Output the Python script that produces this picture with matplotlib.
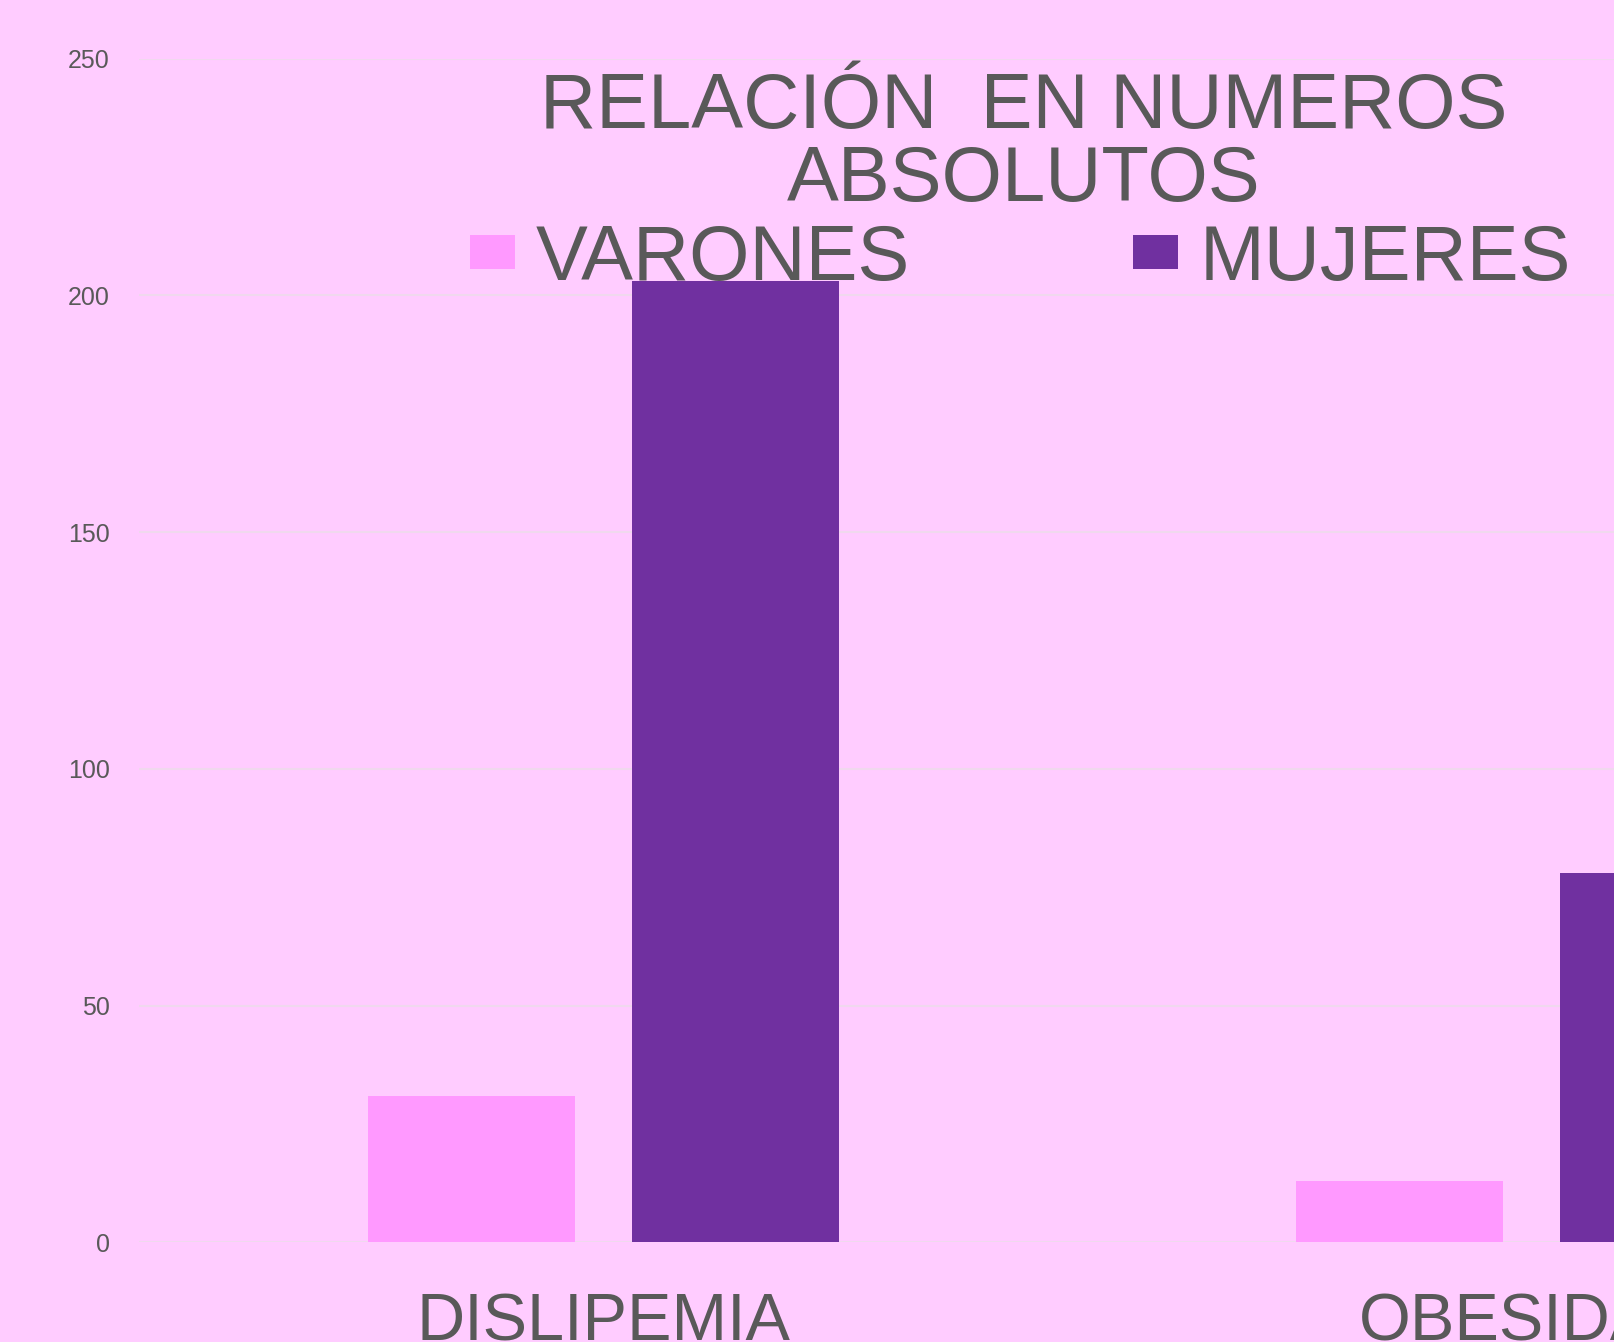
import matplotlib.pyplot as plt
import numpy as np

plt.rcParams['font.family'] = ['Liberation Sans', 'DejaVu Sans']

categorias = ['DISLIPEMIA', 'OBESIDAD']
varones = [31, 13]
mujeres = [203, 78]

bg = '#FFCCFF'
gris = '#595959'

fig = plt.figure(figsize=(16.14, 13.42), dpi=100, facecolor=bg)
# the axes runs past the right edge, the original picture is cropped there
ax = fig.add_axes([0.0861, 0.0742, 1.1505, 0.8821], facecolor=bg)

x = np.arange(len(categorias))
w = 0.223
b1 = ax.bar(x - 0.142, varones, w, color='#FF99FF', label='VARONES', zorder=3)
b2 = ax.bar(x + 0.142, mujeres, w, color='#7030A0', label='MUJERES', zorder=3)

ax.set_xlim(-0.5, 1.5)
ax.set_ylim(0, 250)
ax.set_yticks([0, 50, 100, 150, 200, 250])
ax.set_xticks(x)
ax.set_xticklabels(categorias, fontsize=48, color=gris)
ax.tick_params(axis='x', length=0, pad=36)
ax.tick_params(axis='y', length=0, pad=21, labelsize=18, labelcolor=gris)
ax.grid(axis='y', color='#F0D8EE', linewidth=1.5, zorder=0)
for s in ax.spines.values():
    s.set_visible(False)

fig.text(0.6345, 0.947, 'RELACIÓN  EN NUMEROS\nABSOLUTOS', ha='center', va='top',
         fontsize=56, color=gris, linespacing=0.99)

fig.legend(handles=[b1, b2], loc='upper left', bbox_to_anchor=(0.291, 0.834),
           ncol=2, frameon=False, fontsize=56, labelcolor=gris,
           handlelength=0.58, handleheight=0.29, handletextpad=0.27,
           columnspacing=2.87, borderpad=0, borderaxespad=0)

fig.savefig('out.png', dpi=100, facecolor=bg)
